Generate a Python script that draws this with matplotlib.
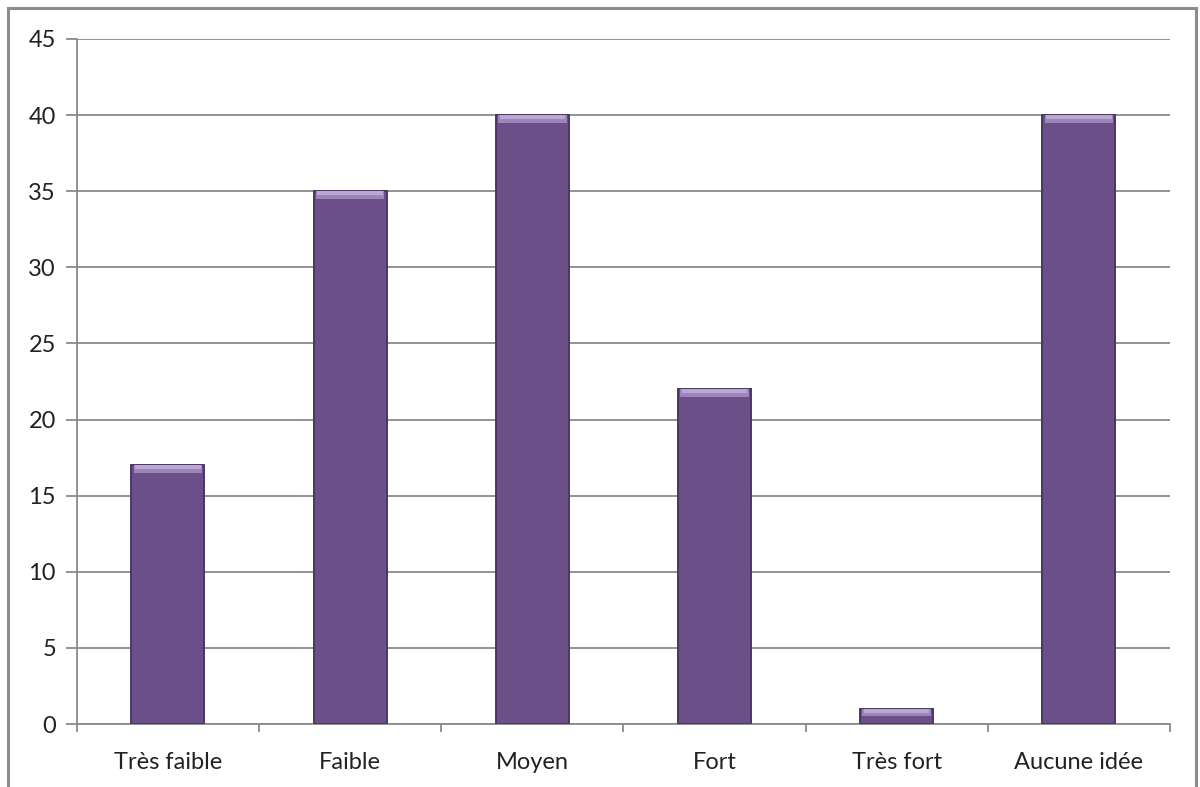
import matplotlib
matplotlib.use("Agg")
import matplotlib.pyplot as plt
from matplotlib.patches import Rectangle

categories = ["Très faible", "Faible", "Moyen", "Fort", "Très fort", "Aucune idée"]
values = [17, 35, 40, 22, 1, 40]
yticks = [0, 5, 10, 15, 20, 25, 30, 35, 40, 45]

plt.rcParams["font.family"] = ["Lato", "DejaVu Sans"]

fig = plt.figure(figsize=(12, 7.87), dpi=100)
fig.patch.set_facecolor("white")
ax = fig.add_axes([0.064, 0.080, 0.911, 0.8705])

# outer chart-area frame
frame = Rectangle((8 / 1200, -0.01), (1196 - 8) / 1200, 1 - 8 / 787 + 0.01,
                  transform=fig.transFigure, fill=False,
                  edgecolor="#8c8c8c", linewidth=2.2, zorder=0)
fig.patches.append(frame)

x = list(range(len(categories)))
width = 0.4
main = "#6a4f88"
edge = "#4b3763"
ax.bar(x, values, width=width, color=main, edgecolor=edge, linewidth=1.4, zorder=3)

# bevelled top of each bar
cap = 0.5
for xi, v in zip(x, values):
    h = min(cap, v * 0.6)
    ax.add_patch(Rectangle((xi - width / 2 + 0.012, v - h), width - 0.024, h,
                           facecolor="#9d84bb", edgecolor="none", zorder=4))
    ax.add_patch(Rectangle((xi - width / 2 + 0.02, v - h * 0.5), width - 0.04, h * 0.5,
                           facecolor="#bba7d4", edgecolor="none", zorder=4))

ax.set_xlim(-0.5, len(categories) - 0.5)
ax.set_ylim(0, 45)
ax.set_yticks(yticks)
ax.grid(axis="y", color="#8a8a8a", linewidth=1.3, zorder=1)
ax.set_axisbelow(True)

for s in ["top", "right"]:
    ax.spines[s].set_visible(False)
ax.spines["left"].set_color("#8a8a8a")
ax.spines["bottom"].set_color("#8a8a8a")
ax.spines["left"].set_linewidth(1.3)
ax.spines["bottom"].set_linewidth(1.3)

ax.set_xticks(x)
ax.set_xticklabels(categories)
ax.tick_params(axis="x", length=0, pad=20, labelsize=17, labelcolor="#222222")
ax.tick_params(axis="y", length=8, color="#8a8a8a", width=1.3, pad=7,
               labelsize=17, labelcolor="#222222")

# boundary ticks between categories
ax.set_xticks([i - 0.5 for i in range(len(categories) + 1)], minor=True)
ax.tick_params(axis="x", which="minor", length=6, color="#8a8a8a", width=1.3)

fig.savefig("out.png", dpi=100)
